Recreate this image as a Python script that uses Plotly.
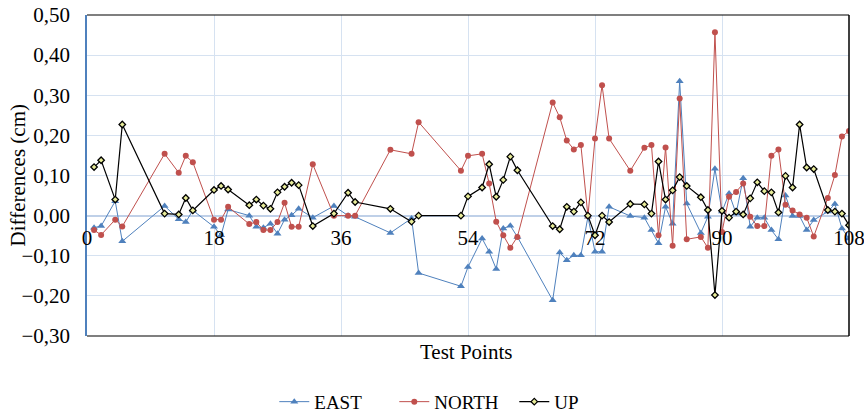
import plotly.graph_objects as go

test_points = [1, 2, 4, 5, 11, 13, 14, 15, 18, 19, 20, 23, 24, 25, 26, 27, 28, 29, 30, 32,
               35, 37, 38, 43, 46, 47, 53, 54, 56, 57, 58, 59, 60, 61, 66, 67, 68, 69, 70, 71,
               72, 73, 74, 77, 79, 80, 81, 82, 83, 84, 85, 87, 88, 89, 90, 91, 92, 93, 94, 95,
               96, 97, 98, 99, 100, 101, 102, 103, 105, 106, 107, 108]

east = [-0.030, -0.026, 0.036, -0.064, 0.024, -0.009, -0.016, 0.013, -0.028, -0.049,
        0.015, 0.000, -0.028, -0.030, -0.020, -0.045, -0.010, 0.001, 0.017, -0.005,
        0.024, 0.000, -0.003, -0.043, -0.007, -0.143, -0.176, -0.128, -0.057, -0.090,
        -0.133, -0.032, -0.025, -0.053, -0.211, -0.092, -0.111, -0.099, -0.099, -0.003,
        -0.090, -0.090, 0.022, -0.001, -0.005, -0.036, -0.069, 0.022, -0.020, 0.335,
        0.030, -0.043, -0.003, 0.117, 0.010, 0.055, 0.005, 0.093, -0.028, -0.005,
        -0.005, -0.036, -0.059, 0.050, -0.001, -0.001, -0.036, -0.011, 0.010, 0.029,
        -0.032, -0.057]

north = [-0.036, -0.048, -0.010, -0.027, 0.154, 0.107, 0.149, 0.133, -0.010, -0.010,
         0.022, -0.021, -0.016, -0.036, -0.036, -0.016, 0.032, -0.028, -0.028, 0.128,
         0.000, 0.000, 0.000, 0.164, 0.154, 0.233, 0.112, 0.149, 0.154, 0.080,
         -0.015, -0.049, -0.080, -0.053, 0.282, 0.245, 0.187, 0.165, 0.176, -0.001,
         0.192, 0.325, 0.192, 0.112, 0.169, 0.176, -0.049, 0.170, -0.075, 0.292,
         -0.059, -0.053, -0.080, 0.457, -0.041, 0.047, 0.059, 0.080, -0.003, -0.026,
         -0.026, 0.149, 0.165, 0.027, 0.013, 0.003, -0.005, -0.052, 0.044, 0.101,
         0.197, 0.211]

up = [0.121, 0.138, 0.040, 0.227, 0.005, 0.003, 0.044, 0.013, 0.064, 0.074,
      0.065, 0.026, 0.040, 0.025, 0.017, 0.058, 0.072, 0.082, 0.076, -0.026,
      0.005, 0.057, 0.034, 0.017, -0.015, 0.000, 0.000, 0.048, 0.070, 0.128,
      0.047, 0.089, 0.147, 0.113, -0.026, -0.034, 0.022, 0.010, 0.033, 0.000,
      -0.049, 0.000, -0.016, 0.029, 0.028, 0.005, 0.135, 0.040, 0.063, 0.096,
      0.074, 0.046, 0.014, -0.198, 0.012, -0.005, 0.010, 0.003, 0.043, 0.083,
      0.061, 0.058, 0.008, 0.099, 0.070, 0.227, 0.120, 0.116, 0.014, 0.010,
      0.005, -0.024]

x_ticks = [0, 18, 36, 54, 72, 90, 108]
y_ticks = [-0.3, -0.2, -0.1, 0.0, 0.1, 0.2, 0.3, 0.4, 0.5]

FONT = "Liberation Serif, DejaVu Serif"
FS = 21
GRID = "#D6E2F1"

fig = go.Figure()
fig.add_trace(go.Scatter(x=test_points, y=east, name="EAST", mode="lines+markers",
                         line=dict(color="#4F81BD", width=1),
                         marker=dict(symbol="triangle-up", size=7, color="#4F81BD")))
fig.add_trace(go.Scatter(x=test_points, y=north, name="NORTH", mode="lines+markers",
                         line=dict(color="#C0504D", width=1),
                         marker=dict(symbol="circle", size=6, color="#C0504D")))
fig.add_trace(go.Scatter(x=test_points, y=up, name="UP", mode="lines+markers",
                         line=dict(color="#000000", width=1.2),
                         marker=dict(symbol="diamond", size=5, color="#E8EC9A",
                                     line=dict(color="#000000", width=1.3))))

fig.update_layout(
    width=864, height=415,
    margin=dict(l=87, r=15, t=15, b=79, autoexpand=False),
    paper_bgcolor="white", plot_bgcolor="white",
    separators=",.",
    font=dict(family=FONT, size=FS, color="#000000"),
    showlegend=True,
    legend=dict(orientation="h", x=0.482, xanchor="center", y=-0.205, yanchor="middle",
                entrywidth=75, entrywidthmode="pixels",
                font=dict(family=FONT, size=19)),
    xaxis=dict(range=[0, 108], tickvals=x_ticks, ticktext=[str(v) for v in x_ticks],
               showgrid=True, gridcolor=GRID, gridwidth=1.2, zeroline=False,
               showline=False, ticks="", anchor="free", position=0.375,
               ticklabelstandoff=7, ticklabeloverflow="allow",
               automargin=False, tickfont=dict(family=FONT, size=FS)),
    yaxis=dict(range=[-0.3, 0.5], tickvals=y_ticks, tickformat=".2f",
               showgrid=True, gridcolor=GRID, gridwidth=1.2,
               zeroline=True, zerolinecolor="#BFD0E8", zerolinewidth=1.5,
               showline=True, linecolor="#4F81BD", linewidth=1.5, ticks="",
               ticklabelstandoff=11, ticklabeloverflow="allow",
               automargin=False, tickfont=dict(family=FONT, size=FS)),
    shapes=[
        dict(type="line", xref="paper", yref="paper", x0=0, x1=1, y0=1, y1=1,
             line=dict(color="#000000", width=1.2)),
        dict(type="line", xref="paper", yref="paper", x0=0, x1=1, y0=0, y1=0,
             line=dict(color="#000000", width=1.2)),
        dict(type="line", xref="paper", yref="paper", x0=1, x1=1, y0=0, y1=1,
             line=dict(color="#000000", width=1.5)),
    ],
    annotations=[
        dict(text="Test Points", xref="paper", yref="paper", x=0.497, y=-0.05,
             xanchor="center", yanchor="middle", showarrow=False,
             font=dict(family=FONT, size=FS)),
        dict(text="Differences (cm)", xref="paper", yref="paper", x=-0.0906, y=0.5,
             xanchor="center", yanchor="middle", textangle=-90, showarrow=False,
             font=dict(family=FONT, size=FS)),
    ],
)

fig.write_html("out.html", config={"displayModeBar": False},
               post_script="document.body.style.margin='0';document.body.style.padding='0';")
